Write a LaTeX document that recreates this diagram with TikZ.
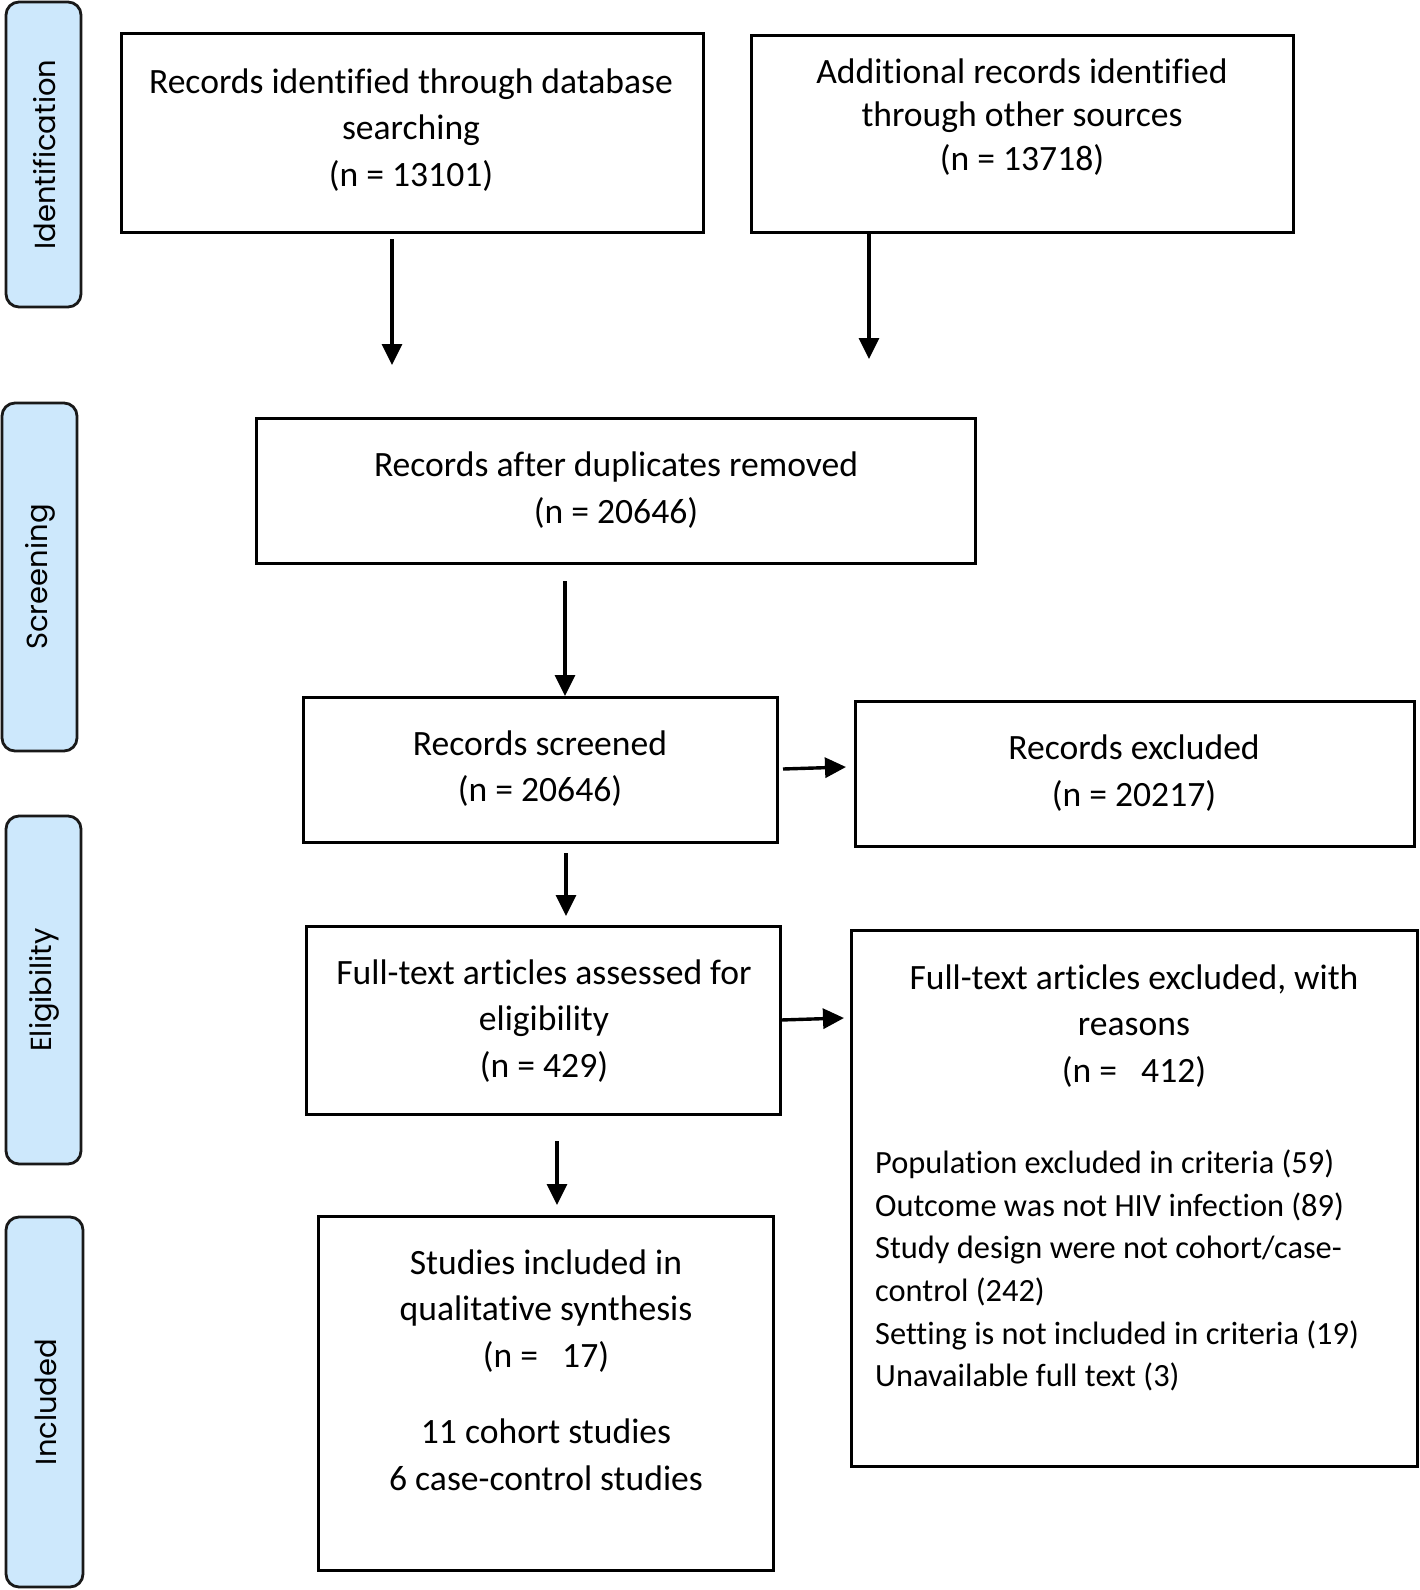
\documentclass[tikz,border=0pt]{standalone}
\usepackage{fontspec}
\setmainfont{Carlito}[Ligatures=NoCommon]
\newfontfamily\sidefont{Poppins}
\usetikzlibrary{arrows.meta}
\definecolor{sidefill}{RGB}{205,232,252}
\begin{document}
\begin{tikzpicture}[x=1pt,y=-1pt,
  box/.style={draw=black, line width=3pt, inner sep=0pt},
  side/.style={draw=black!90, fill=sidefill, line width=2.8pt, rounded corners=13pt, inner sep=0pt, minimum width=75pt},
  sidetext/.style={rotate=90, font=\sidefont\fontsize{29}{35}\selectfont, inner sep=0pt},
  txt/.style={align=center, inner sep=0pt, font=\fontsize{35.6}{46.7}\selectfont},
  txtb/.style={align=center, inner sep=0pt, font=\fontsize{35.6}{43.6}\selectfont},
  lst/.style={align=left, inner sep=0pt, anchor=west, font=\fontsize{32.4}{42.6}\selectfont},
  arr/.style={line width=3.4pt, -{Triangle[width=20pt,length=21pt]}}]
\useasboundingbox (0,0) rectangle (1420,1590);
\fill[white] (0,0) rectangle (1420,1590);

% side phase labels
\node[side, minimum height=305pt] (s1) at (43.5,154.5) {};
\node[sidetext] (s1t) at ([xshift=1pt]s1.center) {Identification};
\node[side, minimum height=348pt] (s2) at (39.5,577) {};
\node[sidetext] (s2t) at ([xshift=1pt]s2.center) {Screening};
\node[side, minimum height=348pt] (s3) at (43.5,990) {};
\node[sidetext] (s3t) at ([xshift=1pt]s3.center) {Eligibility};
\node[side, minimum height=370pt, minimum width=77pt] (s4) at (44.5,1402) {};
\node[sidetext] (s4t) at ([xshift=1pt]s4.center) {Included};

% boxes
\node[box, minimum width=582pt, minimum height=199pt] (b1) at (412,132.5) {};
\node[box, minimum width=542pt, minimum height=197pt] (b2) at (1022,133.5) {};
\node[box, minimum width=719pt, minimum height=145pt] (b3) at (615.5,490.5) {};
\node[box, minimum width=474pt, minimum height=145pt] (b4) at (540,769.5) {};
\node[box, minimum width=559pt, minimum height=145pt] (b5) at (1134.5,773.5) {};
\node[box, minimum width=474pt, minimum height=188pt] (b6) at (543,1020) {};
\node[box, minimum width=566pt, minimum height=536pt] (b7) at (1134,1198) {};
\node[box, minimum width=455pt, minimum height=354pt] (b8) at (545.5,1393) {};

% texts
\node[txt] (t1) at (411,130) {Records identified through database\\searching\\(n = 13101)};
\node[txtb] (t2) at (1022,117) {Additional records identified\\through other sources\\(n = 13718)};
\node[txt] (t3) at (616,490) {Records after duplicates removed\\(n = 20646)};
\node[txt] (t4) at (540,768.5) {Records screened\\(n = 20646)};
\node[txt] (t5) at (1134,773) {Records excluded\\(n = 20217)};
\node[txt] (t6) at (544,1021) {Full-text articles assessed for\\eligibility\\(n = 429)};
\node[txt] (t7) at (1134,1026) {Full-text articles excluded, with\\reasons\\(n =\ \ \ 412)};
\node[lst] (t7b) at (875,1270.5) {Population excluded in criteria (59)\\Outcome was not HIV infection (89)\\Study design were not cohort/case-\\control (242)\\Setting is not included in criteria (19)\\Unavailable full text (3)};
\node[txt] (t8) at (546,1311) {Studies included in\\qualitative synthesis\\(n =\ \ \ 17)};
\node[txt] (t8b) at (546,1454.5) {11 cohort studies\\6 case-control studies};

% arrow end points
\coordinate (a1s) at (392,239); \coordinate (a1e) at (392,365);
\coordinate (a2s) at (869,234); \coordinate (a2e) at (869,359);
\coordinate (a3s) at (565,581); \coordinate (a3e) at (565,696);
\coordinate (a4s) at (783,769); \coordinate (a4e) at (846,767);
\coordinate (a5s) at (566,853); \coordinate (a5e) at (566,916);
\coordinate (a6s) at (781,1020); \coordinate (a6e) at (844,1018);
\coordinate (a7s) at (557,1141); \coordinate (a7e) at (557,1205);

\draw[arr] (a1s) -- (a1e);
\draw[arr] (a2s) -- (a2e);
\draw[arr] (a3s) -- (a3e);
\draw[arr] (a4s) -- (a4e);
\draw[arr] (a5s) -- (a5e);
\draw[arr] (a6s) -- (a6e);
\draw[arr] (a7s) -- (a7e);
\end{tikzpicture}
\end{document}
